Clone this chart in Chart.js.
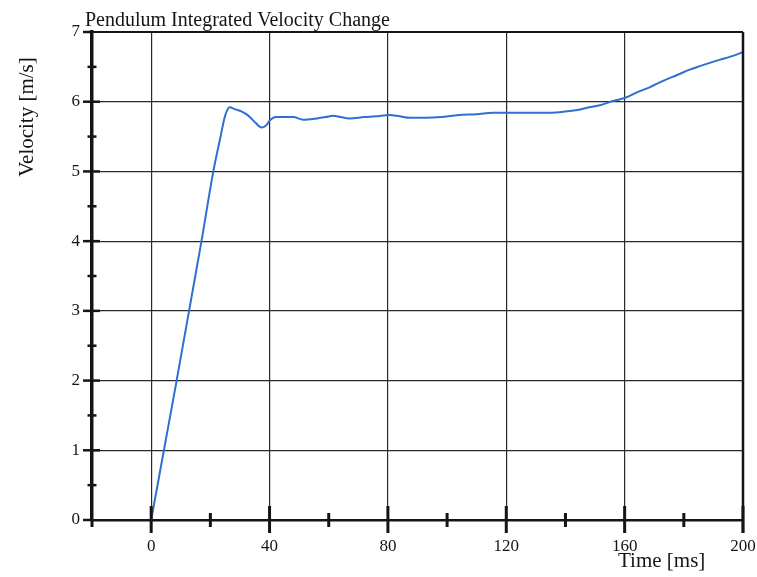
<!DOCTYPE html>
<html>
<head>
<meta charset="utf-8">
<script src="https://cdn.jsdelivr.net/npm/chart.js@4.4.0/dist/chart.umd.min.js"></script>
<style>
  html, body { margin: 0; padding: 0; background: #fff; }
  canvas { display: block; }
</style>
</head>
<body>
<canvas id="chart" width="757" height="577"></canvas>
<script>
// values
const timeMs = [0, 4.3, 8.6, 12.8, 17, 21, 23.2, 25, 26.5, 28.5, 30.5,
  32.8, 35, 37.3, 38.8, 40.3, 42, 45, 48, 51.4, 53.7, 56, 59, 61.5, 64, 67, 72, 76, 80.5, 84,
  87.5, 93, 98, 104, 110, 115.5, 120.5, 127, 133.8, 138, 144, 148, 151.7, 156, 160.5, 164,
  168.6, 173, 177.6, 182, 185.4, 189, 192, 196, 200];
const velocity = [0, 1.0, 2.0, 3.0, 4.0, 5.0, 5.45, 5.8, 5.92, 5.89, 5.86,
  5.80, 5.71, 5.63, 5.66, 5.74, 5.78, 5.78, 5.78, 5.74, 5.75, 5.76, 5.78, 5.80, 5.78, 5.76, 5.78, 5.79, 5.81, 5.79,
  5.77, 5.77, 5.78, 5.81, 5.82, 5.84, 5.84, 5.84, 5.84, 5.85, 5.88, 5.92, 5.95, 6.01, 6.06, 6.13,
  6.21, 6.30, 6.38, 6.46, 6.51, 6.56, 6.60, 6.65, 6.71];

const xLabels = [0, 40, 80, 120, 160, 200];
const yLabels = [0, 1, 2, 3, 4, 5, 6, 7];

const chartTitle = 'Pendulum Integrated Velocity Change';
const xTitle = 'Time [ms]';
const yTitle = 'Velocity [m/s]';

const serif = '"Liberation Serif", "DejaVu Serif", serif';
const ink = '#151515';

// frame, crossing tick marks and titles
const frame = {
  id: 'frame',
  afterDraw(chart) {
    const { ctx, chartArea: a, scales: { x, y } } = chart;
    ctx.save();
    ctx.strokeStyle = ink;
    ctx.lineCap = 'butt';

    ctx.lineWidth = 2;
    ctx.beginPath();
    ctx.moveTo(a.left, a.top);
    ctx.lineTo(a.right, a.top);
    ctx.stroke();
    ctx.lineWidth = 2.5;
    ctx.beginPath();
    ctx.moveTo(a.right, a.top);
    ctx.lineTo(a.right, a.bottom + 13);
    ctx.stroke();

    // x ticks
    ctx.lineWidth = 3;
    x.ticks.forEach(t => {
      const px = x.getPixelForValue(t.value);
      const major = xLabels.includes(t.value);
      const up = t.value === x.min ? 0 : (major ? 14 : 7);
      const down = major ? 13 : 7;
      ctx.beginPath();
      ctx.moveTo(px, a.bottom - up);
      ctx.lineTo(px, a.bottom + down);
      ctx.stroke();
    });

    // y ticks
    ctx.lineWidth = 2.5;
    y.ticks.forEach(t => {
      const py = y.getPixelForValue(t.value);
      const major = yLabels.includes(t.value);
      const left = major ? 9 : 4.5;
      const right = t.value === y.max || t.value === y.min ? 0 : (major ? 8 : 4.5);
      ctx.beginPath();
      ctx.moveTo(a.left - left, py);
      ctx.lineTo(a.left + right, py);
      ctx.stroke();
    });

    ctx.fillStyle = ink;
    ctx.textBaseline = 'alphabetic';
    ctx.font = '20px ' + serif;
    ctx.textAlign = 'left';
    ctx.fillText(chartTitle, 85, 26);

    ctx.font = '21px ' + serif;
    ctx.fillText(xTitle, 618, 567);

    ctx.translate(33, 117);
    ctx.rotate(-Math.PI / 2);
    ctx.textAlign = 'center';
    ctx.fillText(yTitle, 0, 0);
    ctx.restore();
  }
};

new Chart(document.getElementById('chart'), {
  type: 'line',
  data: {
    datasets: [{
      data: timeMs.map((t, i) => ({ x: t, y: velocity[i] })),
      borderColor: '#2f6fcf',
      borderWidth: 2,
      pointRadius: 0,
      fill: false,
      cubicInterpolationMode: 'monotone'
    }]
  },
  options: {
    responsive: false,
    animation: false,
    layout: { padding: { top: 32, right: 14, left: 0, bottom: 0 } },
    plugins: { legend: { display: false }, tooltip: { enabled: false } },
    scales: {
      x: {
        type: 'linear',
        min: -20,
        max: 200,
        afterFit: s => { s.height = 57; s.paddingLeft = 0; s.paddingRight = 0; },
        ticks: {
          stepSize: 20,
          autoSkip: false,
          maxRotation: 0,
          padding: 16,
          color: ink,
          font: { family: serif, size: 17 },
          callback: v => (xLabels.includes(v) ? String(v) : '')
        },
        grid: {
          drawTicks: false,
          lineWidth: 1.2,
          color: c => (c.tick && xLabels.includes(c.tick.value) && c.tick.value < 200 ? '#2a2a2a' : 'rgba(0,0,0,0)')
        },
        border: { display: true, color: ink, width: 2.5 }
      },
      y: {
        min: 0,
        max: 7,
        afterFit: s => { s.width = 92; s.paddingTop = 0; s.paddingBottom = 0; },
        ticks: {
          stepSize: 0.5,
          autoSkip: false,
          padding: 12,
          color: ink,
          font: { family: serif, size: 17 },
          callback: v => (yLabels.includes(v) ? String(v) : '')
        },
        grid: {
          drawTicks: false,
          lineWidth: 1.2,
          color: c => (c.tick && yLabels.includes(c.tick.value) && c.tick.value > 0 && c.tick.value < 7 ? '#2a2a2a' : 'rgba(0,0,0,0)')
        },
        border: { display: true, color: ink, width: 3.5 }
      }
    }
  },
  plugins: [frame]
});
</script>
</body>
</html>
